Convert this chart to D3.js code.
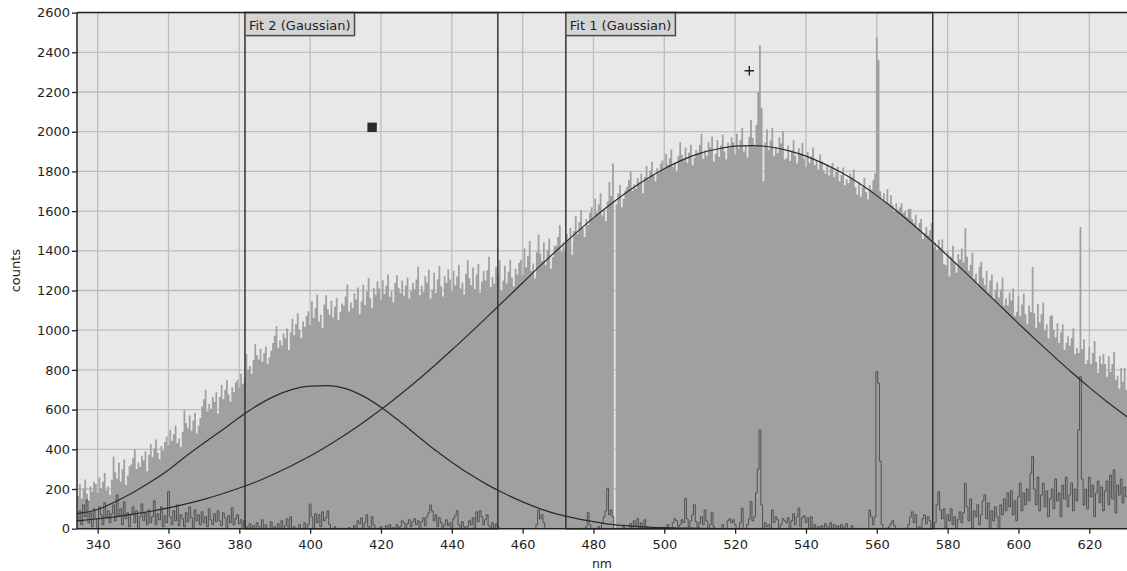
<!DOCTYPE html>
<html>
<head>
<meta charset="utf-8">
<script src="https://cdn.jsdelivr.net/npm/d3@7"></script>
<style>
  html, body { margin: 0; padding: 0; background: #ffffff; }
  svg { display: block; }
  text { font-family: "DejaVu Sans", sans-serif; fill: #1e1e1e; }
</style>
</head>
<body>
<svg id="chart" width="1127" height="571"></svg>
<script>
// ---------------- DATA ----------------
// Spectrum: counts per 0.5 nm bin, first bin centred at 334.5 nm
const specStart = 334.5;
const specStep = 0.5;
const spectrum = [
  164,224,152,200,248,176,140,212,188,236,
  225,181,258,203,236,280,192,214,170,247,
  364,284,252,332,236,300,348,220,268,316,
  323,356,400,301,334,312,367,345,389,290,
  372,427,361,405,449,383,350,416,394,438,
  465,421,498,443,476,520,432,454,410,487,
  597,532,506,571,493,545,584,480,519,558,
  616,652,700,592,628,604,664,640,688,580,
  664,724,652,700,748,676,640,712,688,736,
  750,710,780,730,760,880,800,820,780,850,
  929,874,852,907,841,885,918,830,863,896,
  936,972,1020,912,948,924,984,960,1008,900,
  988,1058,974,1030,1086,1002,960,1044,1016,1072,
  1095,1027,1146,1061,1112,1180,1044,1078,1010,1129,
  1176,1106,1078,1148,1064,1120,1162,1050,1092,1134,
  1125,1170,1230,1095,1140,1110,1185,1155,1215,1080,
  1144,1229,1127,1195,1263,1161,1110,1212,1178,1246,
  1210,1154,1252,1182,1224,1280,1168,1196,1140,1238,
  1277,1212,1186,1251,1173,1225,1264,1160,1199,1238,
  1208,1256,1320,1176,1224,1192,1272,1240,1304,1160,
  1204,1289,1187,1255,1323,1221,1170,1272,1238,1306,
  1255,1195,1300,1225,1270,1330,1210,1240,1180,1285,
  1352,1262,1226,1316,1208,1280,1334,1190,1244,1298,
  1251,1302,1370,1217,1268,1234,1319,1285,1353,1200,
  1250,1325,1235,1295,1355,1265,1220,1310,1280,1340,
  1355,1279,1412,1317,1374,1450,1298,1336,1260,1393,
  1481,1386,1348,1443,1329,1405,1462,1310,1367,1424,
  1425,1470,1530,1395,1440,1410,1485,1455,1515,1380,
  1500,1575,1485,1545,1605,1515,1470,1560,1530,1590,
  1620,1564,1662,1592,1634,1690,1578,1606,1550,1648,
  1746,1676,1840,0,1634,1690,1732,1620,1662,1704,
  1723,1756,1800,1701,1734,1712,1767,1745,1789,1690,
  1772,1827,1761,1805,1849,1783,1750,1816,1794,1838,
  1855,1811,1888,1833,1866,1910,1822,1844,1800,1877,
  1947,1882,1856,1921,1843,1895,1934,1830,1869,1908,
  1892,1934,1990,1864,1906,1878,1948,1920,1976,1850,
  1888,1958,1874,1930,1986,1902,1860,1944,1916,1972,
  1945,1885,1990,1915,1960,2020,1900,1930,1870,1975,
  2060,1968,1924,2034,2200,2436,2120,1750,1946,2012,
  1908,1956,2020,1876,1924,1892,1972,1940,2004,1860,
  1866,1931,1853,1905,1957,1879,1840,1918,1892,1944,
  1865,1821,1898,1843,1876,1920,1832,1854,1810,1887,
  1851,1806,1788,1833,1779,1815,1842,1770,1797,1824,
  1750,1780,1820,1730,1760,1740,1790,1770,1810,1720,
  1684,1744,1672,1720,1768,1696,1660,1732,1708,1756,
  1790,2475,2360,1700,1660,1690,1650,1710,1640,1680,
  1630,1600,1640,1605,1620,1640,1590,1600,1570,1610,
  1610,1560,1540,1580,1510,1540,1560,1460,1490,1520,
  1478,1503,1541,1417,1442,1405,1456,1418,1457,1332,
  1328,1398,1270,1370,1426,1342,1290,1384,1356,1412,
  1340,1513,1370,1300,1330,1390,1260,1285,1225,1320,
  1344,1262,1226,1300,1190,1250,1280,1160,1200,1240,
  1165,1205,1265,1125,1160,1125,1190,1150,1210,1070,
  1092,1170,1070,1130,1185,1080,1030,1125,1090,1318,
  1085,1012,1132,1040,1080,1140,1000,1030,960,1070,
  1075,1000,965,1035,935,990,1030,900,935,970,
  922,960,1010,880,910,885,1520,905,955,830,
  848,915,830,885,945,840,785,870,830,880,
  830,765,870,790,830,890,750,770,705,810,
  740,810,700
];

// Residual (data above the fits), same bins as the spectrum
const residual = [
  40,90,20,120,60,145,30,80,10,100,
  50,0,110,70,20,130,60,90,30,75,
  120,40,170,60,100,20,135,50,80,10,
  70,110,30,90,0,60,125,40,80,20,
  95,30,60,140,20,75,45,110,10,65,
  30,186,60,20,90,40,120,15,70,50,
  10,80,35,110,55,0,95,40,70,20,
  85,30,60,10,100,45,20,75,35,90,
  40,15,80,55,0,65,30,105,20,50,
  70,25,45,0,40,10,0,25,0,15,
  0,30,10,0,45,0,20,0,0,35,
  0,10,0,25,0,40,0,15,50,0,
  60,0,10,0,0,20,0,0,30,0,
  20,124,60,0,75,30,70,10,85,40,
  55,90,20,0,0,10,0,0,0,0,
  0,0,0,5,0,0,15,0,40,25,
  55,0,30,70,10,0,60,20,0,0,
  0,10,0,0,15,0,20,0,5,0,
  20,0,10,40,30,0,25,45,10,35,
  50,20,40,0,35,55,15,60,80,119,
  90,40,70,10,55,30,0,20,45,15,
  30,0,50,65,91,20,0,35,10,0,
  10,40,20,55,0,85,35,91,60,20,
  45,70,15,0,30,0,24,10,0,0,
  0,0,0,0,0,0,0,0,0,0,
  0,0,0,0,0,0,0,0,0,20,
  94,50,70,30,0,0,0,0,0,0,
  0,0,0,0,0,0,0,0,0,0,
  0,0,0,0,0,0,0,10,81,20,
  0,0,0,0,10,0,30,60,90,203,
  70,94,60,0,0,0,0,0,10,0,
  0,0,25,0,40,15,50,0,30,0,
  45,10,0,0,0,0,0,0,0,0,
  0,0,0,20,0,0,30,50,40,10,
  20,45,30,153,50,10,40,70,120,35,
  0,30,60,20,94,40,0,20,81,10,
  0,0,0,0,20,0,0,40,50,30,
  45,20,0,0,30,103,0,0,20,50,
  136,40,60,180,300,496,120,0,30,10,
  20,0,94,30,60,45,0,20,50,40,
  30,55,0,40,75,20,60,103,10,55,
  65,30,55,0,60,0,20,0,10,0,
  15,0,25,10,0,30,0,20,0,15,
  0,20,0,10,25,0,0,15,0,0,
  0,0,0,0,0,0,0,94,60,20,
  60,791,733,340,20,0,0,0,10,25,
  40,15,0,0,0,0,0,0,0,20,
  60,85,30,70,0,10,0,50,70,25,
  60,40,0,0,30,120,186,94,50,100,
  5,70,40,100,20,60,0,45,85,30,
  80,229,110,40,150,0,90,60,120,20,
  70,140,170,50,130,0,90,40,110,60,
  0,120,70,150,90,180,110,191,70,140,
  40,160,230,90,180,120,200,140,279,363,
  200,120,260,90,170,230,110,190,60,150,
  200,100,250,140,180,60,220,150,260,110,
  170,230,90,200,140,497,766,250,120,200,
  100,260,160,220,60,180,240,130,210,90,
  190,240,120,270,150,296,80,220,170,250,
  130,210,160
];

// Fitted Gaussian curves
const fitNm = [334,340,345,350,355,360,365,370,375,380,385,390,395,400,405,410,415,420,425,430,
  435,440,445,450,455,460,465,470,475,480,485,490,495,500,505,510,515,520,525,530,
  535,540,545,550,555,560,565,570,575,580,585,590,595,600,605,610,615,620,625,631];
const fit1Counts = [39,50,60,73,88,105,125,148,175,205,238,277,320,366,418,474,535,600,670,743,
  820,900,983,1067,1153,1239,1325,1408,1489,1566,1637,1703,1762,1813,1857,1891,1913,1927,1930,1923,
  1905,1877,1839,1794,1740,1678,1609,1535,1457,1375,1291,1205,1120,1034,950,868,788,712,640,560];
const fit2Counts = [76,97,136,182,236,296,366,432,495,560,620,668,702,718,721,706,668,612,545,472,
  400,335,275,222,176,135,100,72,52,36,22,14,8,5,3,2,1,0,0,0,
  0,0,0,0,0,0,0,0,0,0,0,0,0,0,0,0,0,0,0,0];

// Fit regions
const fitNames = ["Fit 2 (Gaussian)", "Fit 1 (Gaussian)"];
const fitFrom = [381.6, 472.2];
const fitTo = [453.0, 575.8];

// Markers
const squareMarker = [417.5, 2022];
const plusMarker = [524.0, 2307];

// Axis ticks
const xTicks = [340,360,380,400,420,440,460,480,500,520,540,560,580,600,620];
const yTicks = [0,200,400,600,800,1000,1200,1400,1600,1800,2000,2200,2400,2600];
const xDomain = [334.17, 630.65];
const yDomain = [0, 2600];
const xTitle = "nm";
const yTitle = "counts";

// ---------------- DRAW ----------------
const svg = d3.select("#chart");
const L = 77, R = 1127, T = 12.6, B = 528.7;
const x = d3.scaleLinear().domain(xDomain).range([L, R]);
const y = d3.scaleLinear().domain(yDomain).range([B, T]);

svg.append("defs").append("clipPath").attr("id", "plotclip")
  .append("rect").attr("x", L).attr("y", T - 1).attr("width", R - L).attr("height", B - T + 1);

svg.append("rect").attr("x", L).attr("y", T).attr("width", R - L).attr("height", B - T)
  .attr("fill", "#e8e8e8");

const plot = svg.append("g").attr("clip-path", "url(#plotclip)");

// grid
plot.append("g").selectAll("line").data(xTicks).join("line")
  .attr("x1", d => x(d)).attr("x2", d => x(d)).attr("y1", T).attr("y2", B)
  .attr("stroke", "#bdbdbd").attr("stroke-width", 1.3);
plot.append("g").selectAll("line").data(yTicks).join("line")
  .attr("x1", L).attr("x2", R).attr("y1", d => y(d)).attr("y2", d => y(d))
  .attr("stroke", "#bdbdbd").attr("stroke-width", 1.3);

// spectrum as stepped area
const specPts = spectrum.map((v, i) => ({ x0: specStart + i * specStep - specStep / 2, v }));
specPts.push({ x0: specStart + spectrum.length * specStep - specStep / 2, v: spectrum[spectrum.length - 1] });
plot.append("path").datum(specPts)
  .attr("d", d3.area().x(d => x(d.x0)).y0(y(0)).y1(d => y(d.v)).curve(d3.curveStepAfter))
  .attr("fill", "#a0a0a0");

// residual
const resPts = residual.map((v, i) => ({ x0: specStart + i * specStep - specStep / 2, v }));
resPts.push({ x0: specStart + residual.length * specStep - specStep / 2, v: residual[residual.length - 1] });
plot.append("path").datum(resPts)
  .attr("d", d3.line().x(d => x(d.x0)).y(d => y(d.v)).curve(d3.curveStepAfter))
  .attr("fill", "none").attr("stroke", "#474747").attr("stroke-width", 0.9);

// fit curves
const fitLine = d3.line().x(d => x(d[0])).y(d => y(d[1])).curve(d3.curveMonotoneX);
[fit1Counts, fit2Counts].forEach(arr => {
  plot.append("path").datum(fitNm.map((n, i) => [n, arr[i]]))
    .attr("d", fitLine).attr("fill", "none").attr("stroke", "#2a2a2a").attr("stroke-width", 1.2);
});

// fit region boxes
fitNames.forEach((name, i) => {
  const x0 = x(fitFrom[i]), x1 = x(fitTo[i]);
  svg.append("rect").attr("x", x0).attr("y", T).attr("width", x1 - x0).attr("height", B - T)
    .attr("fill", "none").attr("stroke", "#333").attr("stroke-width", 1.5);
  const g = svg.append("g");
  const lbl = g.append("rect").attr("x", x0).attr("y", T).attr("height", 23)
    .attr("fill", "#d4d4d4").attr("stroke", "#4a4a4a").attr("stroke-width", 1.5);
  const t = g.append("text").attr("x", x0 + 4).attr("y", T + 17).attr("font-size", 13).text(name);
  const w = t.node().getComputedTextLength();
  lbl.attr("width", w + 8);
});

// markers
svg.append("rect").attr("x", x(squareMarker[0]) - 4.7).attr("y", y(squareMarker[1]) - 4.7)
  .attr("width", 9.4).attr("height", 9.4).attr("fill", "#2b2b2b");
const px = x(plusMarker[0]), py = y(plusMarker[1]);
svg.append("path").attr("d", `M${px - 4.7},${py}H${px + 4.7}M${px},${py - 4.7}V${py + 4.7}`)
  .attr("stroke", "#222").attr("stroke-width", 1.4).attr("fill", "none");

// axes frame
svg.append("line").attr("x1", L).attr("x2", R).attr("y1", T).attr("y2", T).attr("stroke", "#222").attr("stroke-width", 1.5);
svg.append("line").attr("x1", L).attr("x2", L).attr("y1", T).attr("y2", B).attr("stroke", "#222").attr("stroke-width", 1.5);
svg.append("line").attr("x1", L).attr("x2", R).attr("y1", B).attr("y2", B).attr("stroke", "#222").attr("stroke-width", 1.5);

// y axis
const yAxis = d3.axisLeft(y).tickValues(yTicks).tickSize(5).tickPadding(2).tickFormat(d3.format("d"));
const ya = svg.append("g").attr("transform", `translate(${L},0)`).call(yAxis);
ya.select(".domain").remove();
ya.selectAll(".tick line").attr("stroke", "#222").attr("stroke-width", 1.3);
ya.selectAll(".tick text").attr("font-size", 13).attr("font-family", "DejaVu Sans").attr("fill", "#1e1e1e");

// x axis
const xAxis = d3.axisBottom(x).tickValues(xTicks).tickSize(5).tickPadding(6).tickFormat(d3.format("d"));
const xa = svg.append("g").attr("transform", `translate(0,${B})`).call(xAxis);
xa.select(".domain").remove();
xa.selectAll(".tick line").attr("stroke", "#222").attr("stroke-width", 1.3);
xa.selectAll(".tick text").attr("font-size", 13).attr("font-family", "DejaVu Sans").attr("fill", "#1e1e1e");

// titles
svg.append("text").attr("x", (L + R) / 2).attr("y", 568).attr("text-anchor", "middle")
  .attr("font-size", 12.5).text(xTitle);
svg.append("text").attr("transform", `translate(20,${(T + B) / 2}) rotate(-90)`)
  .attr("text-anchor", "middle").attr("font-size", 13).text(yTitle);
</script>
</body>
</html>
